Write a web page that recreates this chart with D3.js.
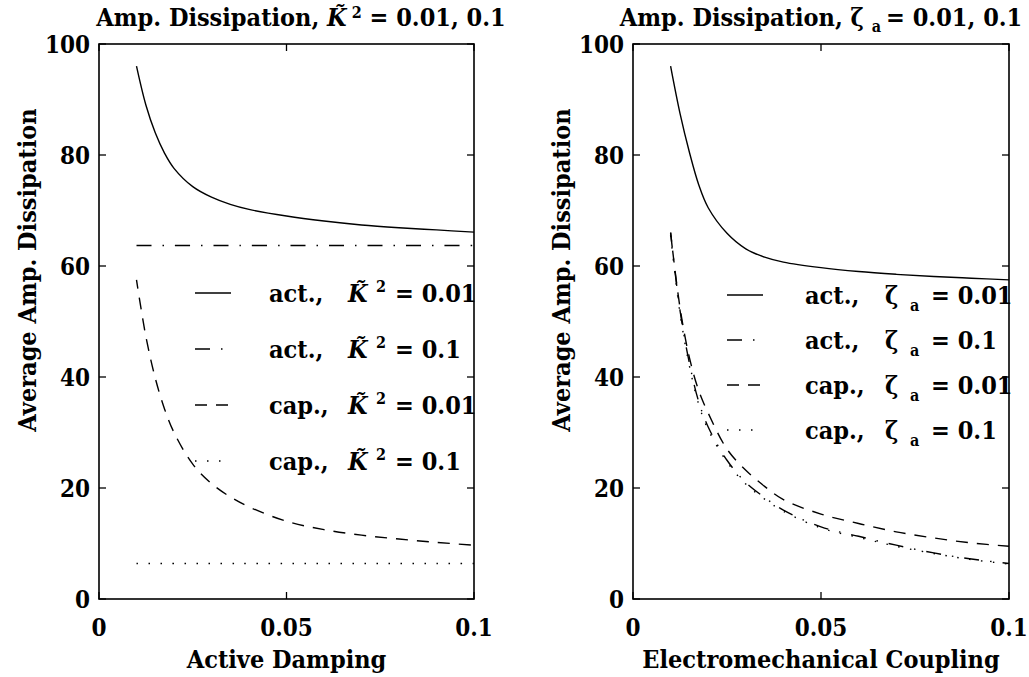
<!DOCTYPE html>
<html lang="en">
<head>
<meta charset="UTF-8">
<title>Amp. Dissipation</title>
<script src="https://d3js.org/d3.v7.min.js"></script>
<style>
  body { margin: 0; background: #fff; }
  svg text {
    font-family: "DejaVu Serif Condensed", "DejaVu Serif", serif;
    font-stretch: condensed;
    font-weight: bold;
    fill: #000;
  }
</style>
</head>
<body>
<script>
// x values (both panels share the same sampling)
const xVals = [0.01, 0.0125, 0.015, 0.0175, 0.02, 0.025, 0.03, 0.035, 0.04, 0.05, 0.06, 0.07, 0.08, 0.09, 0.1];

// left panel: vs active damping
const actK001 = [96, 89, 84, 80.3, 77.6, 74.3, 72.4, 71.1, 70.2, 69, 68.1, 67.4, 66.9, 66.5, 66.1];
const actK01  = [63.7, 63.7, 63.7, 63.7, 63.7, 63.7, 63.7, 63.7, 63.7, 63.7, 63.7, 63.7, 63.7, 63.7, 63.7];
const capK001 = [57.5, 47.3, 39.8, 34.2, 30, 24.3, 20.8, 18.4, 16.6, 14, 12.5, 11.5, 10.8, 10.2, 9.7];
const capK01  = [6.4, 6.4, 6.4, 6.4, 6.4, 6.4, 6.4, 6.4, 6.4, 6.4, 6.4, 6.4, 6.4, 6.4, 6.4];

// right panel: vs electromechanical coupling
const actZ001 = [96, 87.5, 80.5, 74.6, 70.5, 65.9, 63.1, 61.6, 60.7, 59.7, 59, 58.5, 58.1, 57.8, 57.5];
const actZ01  = [66, 52, 42.5, 35.5, 31, 25, 21, 18.3, 16, 13, 11.3, 9.7, 8.3, 7.2, 6.4];
const capZ001 = [66, 52.5, 43.5, 37.5, 33.5, 27, 23.2, 20.3, 17.9, 15.3, 13.6, 12.1, 11, 10.1, 9.5];
const capZ01  = [65.5, 51.5, 42, 35, 30.5, 24.7, 20.7, 18, 15.8, 12.8, 11.1, 9.5, 8.2, 7.1, 6.3];

const xTicks = [0, 0.05, 0.1];
const yTicks = [0, 20, 40, 60, 80, 100];

const legendK = [
  {kind: "act.,", val: "0.01"},
  {kind: "act.,", val: "0.1"},
  {kind: "cap.,", val: "0.01"},
  {kind: "cap.,", val: "0.1"}
];
const legendZ = legendK;

// line styles for the four series
const styles = [
  {dash: null, offset: 0},
  {dash: "15,11,1.5,11", offset: 0},
  {dash: "12,9", offset: 3},
  {dash: "1.5,10.5", offset: 0}
];

const W = 1029, H = 677;
const svg = d3.select("body").append("svg")
  .attr("width", W).attr("height", H);

function panel(opts) {
  const x = d3.scaleLinear().domain([0, 0.1]).range([opts.x0, opts.x1]);
  const y = d3.scaleLinear().domain([0, 100]).range([599, 44]);
  const g = svg.append("g");

  const line = d3.line()
    .x((d, i) => x(xVals[i]))
    .y(d => y(d))
    .curve(d3.curveCatmullRom.alpha(0.5));

  opts.series.forEach((s, i) => {
    g.append("path")
      .attr("d", line(s))
      .attr("fill", "none")
      .attr("stroke", "#000")
      .attr("stroke-width", 1.4)
      .attr("stroke-dasharray", styles[i].dash)
      .attr("stroke-dashoffset", styles[i].offset);
  });

  // frame
  g.append("rect")
    .attr("x", x(0)).attr("y", y(100))
    .attr("width", x(0.1) - x(0)).attr("height", y(0) - y(100))
    .attr("fill", "none").attr("stroke", "#000").attr("stroke-width", 1.6);

  // inward ticks on all sides
  const tl = 7;
  yTicks.forEach(t => {
    g.append("line").attr("x1", x(0)).attr("x2", x(0) + tl)
      .attr("y1", y(t)).attr("y2", y(t)).attr("stroke", "#000").attr("stroke-width", 1.3);
    g.append("line").attr("x1", x(0.1)).attr("x2", x(0.1) - tl)
      .attr("y1", y(t)).attr("y2", y(t)).attr("stroke", "#000").attr("stroke-width", 1.3);
    g.append("text").attr("x", x(0) - 9).attr("y", y(t) + 9)
      .attr("text-anchor", "end").attr("font-size", 24).text(t);
  });
  xTicks.forEach(t => {
    g.append("line").attr("x1", x(t)).attr("x2", x(t))
      .attr("y1", y(0)).attr("y2", y(0) - tl).attr("stroke", "#000").attr("stroke-width", 1.3);
    g.append("line").attr("x1", x(t)).attr("x2", x(t))
      .attr("y1", y(100)).attr("y2", y(100) + tl).attr("stroke", "#000").attr("stroke-width", 1.3);
    g.append("text").attr("x", x(t)).attr("y", 636)
      .attr("text-anchor", "middle").attr("font-size", 24).text(t);
  });

  // axis labels
  g.append("text").attr("x", (opts.x0 + opts.x1) / 2).attr("y", 668)
    .attr("text-anchor", "middle").attr("font-size", 25).text(opts.xlabel);
  g.append("text")
    .attr("transform", `translate(${opts.x0 - 63},270) rotate(-90)`)
    .attr("text-anchor", "middle").attr("font-size", 25)
    .text("Average Amp. Dissipation");

  // title
  const tt = g.append("text").attr("x", opts.titleX).attr("y", 26)
    .attr("text-anchor", "middle").attr("font-size", 25);
  opts.titleParts(tt);

  // legend
  opts.legend.forEach((d, i) => {
    const ly = opts.legY + i * opts.legStep;
    g.append("line")
      .attr("x1", opts.legX0).attr("x2", opts.legX0 + 36)
      .attr("y1", ly).attr("y2", ly)
      .attr("stroke", "#000").attr("stroke-width", 1.4)
      .attr("stroke-dasharray", styles[i].dash);
    const t = g.append("text").attr("y", ly + 9).attr("font-size", 25);
    t.append("tspan").attr("x", opts.legText).text(d.kind);
    opts.legSym(t, d.val);
  });
}

panel({
  x0: 99, x1: 474,
  series: [actK001, actK01, capK001, capK01],
  xlabel: "Active Damping",
  titleX: 301,
  titleParts: t => {
    t.append("tspan").text("Amp. Dissipation, ");
    t.append("tspan").attr("font-style", "italic").text("K\u0303");
    t.append("tspan").attr("font-size", 16).attr("dy", -8).text(" 2");
    t.append("tspan").attr("dy", 8).text(" = 0.01, 0.1");
  },
  legend: legendK,
  legX0: 195, legY: 293, legStep: 56, legText: 269,
  legSym: (t, v) => {
    t.append("tspan").attr("x", 348).attr("font-style", "italic").text("K\u0303");
    t.append("tspan").attr("x", 376).attr("dy", -10).attr("font-size", 16).text("2");
    t.append("tspan").attr("x", 395).attr("dy", 10).text("= " + v);
  }
});

panel({
  x0: 633, x1: 1009,
  series: [actZ001, actZ01, capZ001, capZ01],
  xlabel: "Electromechanical Coupling",
  titleX: 821,
  titleParts: t => {
    t.append("tspan").text("Amp. Dissipation, \u03b6 ");
    t.append("tspan").attr("font-size", 16).attr("dy", 6).text(" a ");
    t.append("tspan").attr("dy", -6).text(" = 0.01, 0.1");
  },
  legend: legendZ,
  legX0: 727, legY: 295, legStep: 45, legText: 805,
  legSym: (t, v) => {
    t.append("tspan").attr("x", 885).text("\u03b6");
    t.append("tspan").attr("x", 910).attr("dy", 7).attr("font-size", 16).text("a");
    t.append("tspan").attr("x", 931).attr("dy", -7).text("= " + v);
  }
});
</script>
</body>
</html>
